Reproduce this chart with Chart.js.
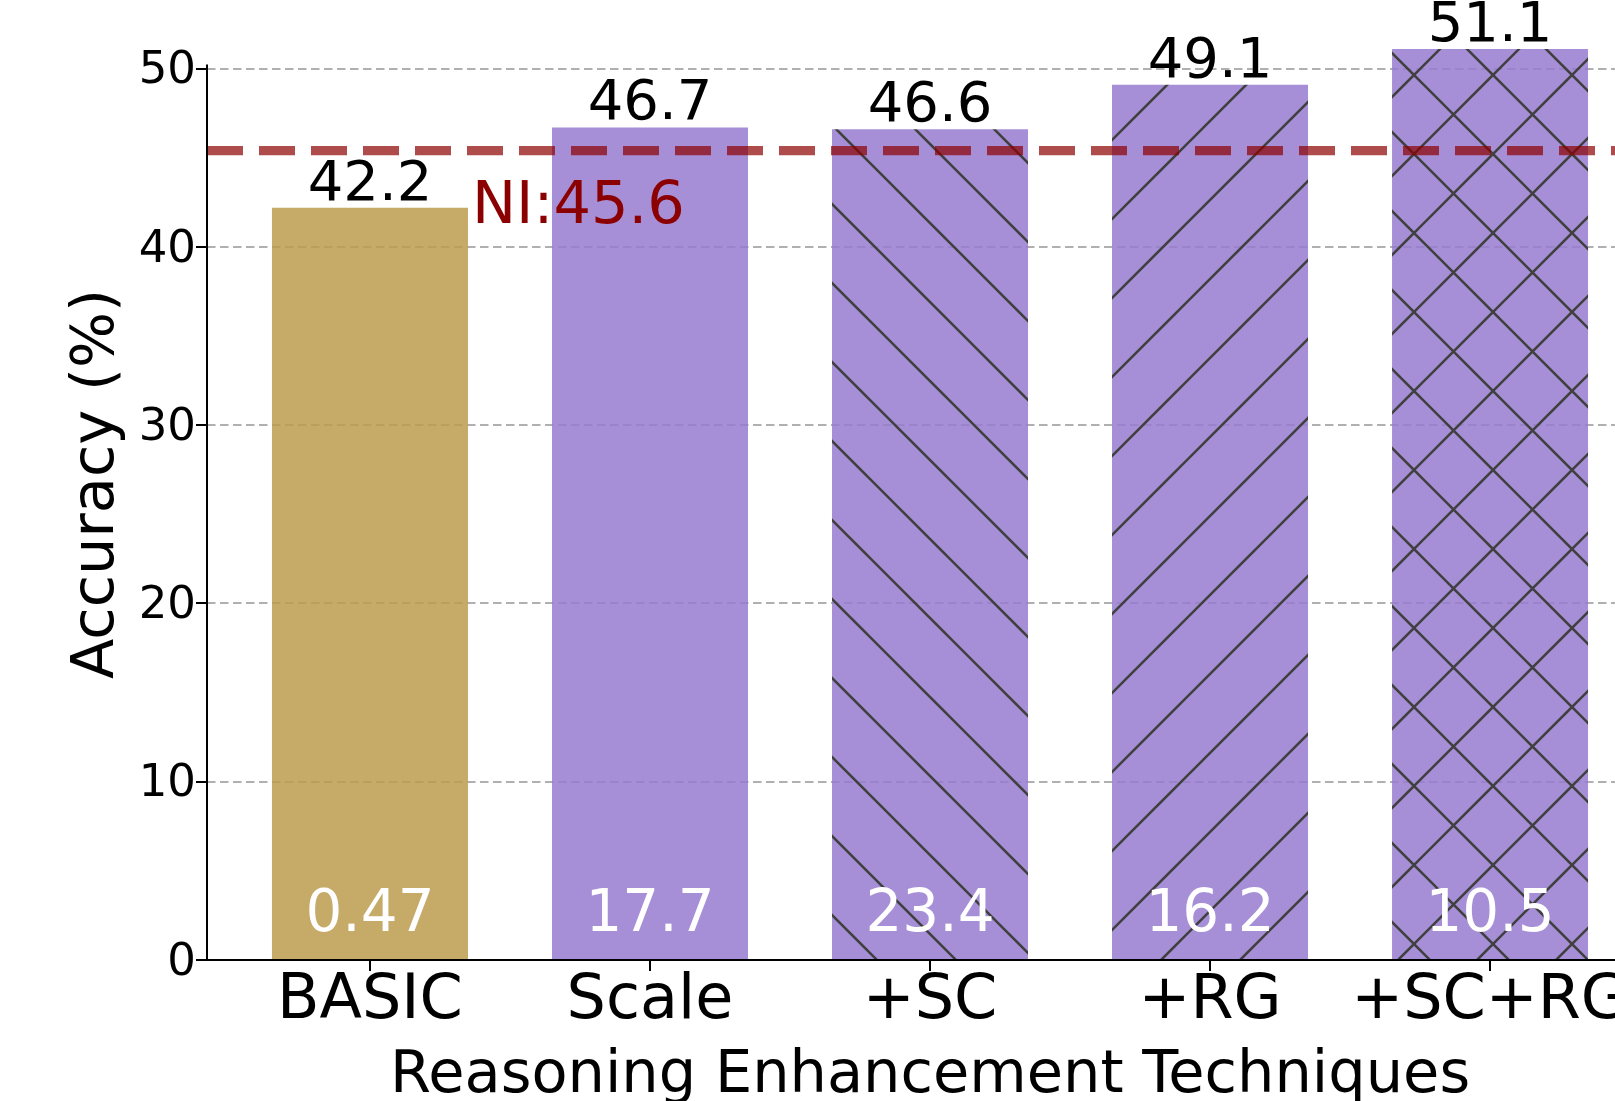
<!DOCTYPE html>
<html>
<head>
<meta charset="utf-8">
<script src="https://cdn.jsdelivr.net/npm/chart.js@4.4.1/dist/chart.umd.min.js"></script>
<style>
html, body { margin: 0; padding: 0; overflow: hidden; background: #ffffff; }
#wrap { position: relative; width: 1700px; height: 1101px; }
</style>
</head>
<body>
<div id="wrap"><canvas id="c"></canvas></div>
<script>
// ---- data ----
const categories = ['BASIC', 'Scale', '+SC', '+RG', '+SC+RG'];
const accuracy = [42.2, 46.7, 46.6, 49.1, 51.1];
const innerValues = [0.47, 17.7, 23.4, 16.2, 10.5];
const yTicks = [0, 10, 20, 30, 40, 50];
const niLineValue = 45.4;
const niLabel = 'NI:45.6';
const hatches = ['', '', '\\', '/', 'x'];
const xAxisTitle = 'Reasoning Enhancement Techniques';
const yAxisTitle = 'Accuracy (%)';

// ---- styling ----
const FONT = 'DejaVu Sans';
Chart.defaults.font.family = FONT;
const GOLD = 'rgba(187,155,77,0.85)';
const PURPLE = 'rgba(150,123,207,0.85)';
const HATCH_COLOR = '#404040';
const TILE = 79;

function makePattern(ctxMain, fill, hatch) {
  const t = document.createElement('canvas');
  t.width = TILE; t.height = TILE;
  const c = t.getContext('2d');
  c.fillStyle = fill;
  c.fillRect(0, 0, TILE, TILE);
  c.strokeStyle = HATCH_COLOR;
  c.lineWidth = 2.6;
  const back = 75, fwd = 67;
  c.beginPath();
  if (hatch === '\\' || hatch === 'x') {
    for (let k = -2; k <= 2; k++) {
      const c0 = back + TILE * k;
      c.moveTo(c0 - 10, -10); c.lineTo(c0 + TILE + 10, TILE + 10);
    }
  }
  if (hatch === '/' || hatch === 'x') {
    for (let k = -2; k <= 3; k++) {
      const c0 = fwd + TILE * k;
      c.moveTo(c0 + 10, -10); c.lineTo(c0 - TILE - 10, TILE + 10);
    }
  }
  c.stroke();
  return ctxMain.createPattern(t, 'repeat');
}

const canvas = document.getElementById('c');
const mainCtx = canvas.getContext('2d');
const baseColors = [GOLD, PURPLE, PURPLE, PURPLE, PURPLE];
const fills = baseColors.map((col, i) => hatches[i] ? makePattern(mainCtx, col, hatches[i]) : col);

const overlay = {
  id: 'overlay',
  afterDatasetsDraw(chart) {
    const { ctx, chartArea, scales } = chart;
    const y = scales.y;
    const bars = chart.getDatasetMeta(0).data;
    ctx.save();
    // NI reference line
    const ny = y.getPixelForValue(niLineValue);
    ctx.strokeStyle = 'rgba(139,0,0,0.7)';
    ctx.lineWidth = 9.3;
    ctx.setLineDash([36, 16]);
    ctx.lineCap = 'butt';
    ctx.beginPath();
    ctx.moveTo(chartArea.left, ny);
    ctx.lineTo(chartArea.right, ny);
    ctx.stroke();
    ctx.setLineDash([]);
    // value labels above bars
    ctx.textAlign = 'center';
    ctx.textBaseline = 'alphabetic';
    ctx.fillStyle = '#000000';
    ctx.font = '56px "' + FONT + '"';
    bars.forEach((b, i) => ctx.fillText(String(accuracy[i]), b.x, b.y - 8));
    // inner labels
    ctx.fillStyle = '#ffffff';
    ctx.font = '58px "' + FONT + '"';
    bars.forEach((b, i) => ctx.fillText(String(innerValues[i]), b.x, b.base - 28));
    // NI label
    ctx.textAlign = 'left';
    ctx.fillStyle = '#8b0000';
    ctx.font = '59px "' + FONT + '"';
    ctx.fillText(niLabel, bars[0].x + bars[0].width / 2 + 4, ny + 72);
    // left spine (0..50)
    ctx.strokeStyle = '#000000';
    ctx.lineWidth = 2;
    ctx.lineCap = 'square';
    ctx.beginPath();
    ctx.moveTo(chartArea.left, y.getPixelForValue(yTicks[yTicks.length - 1]) - 3);
    ctx.lineTo(chartArea.left, y.getPixelForValue(0));
    ctx.stroke();
    ctx.restore();
  }
};

new Chart(canvas, {
  type: 'bar',
  data: {
    datasets: [{
      data: accuracy.map((v, i) => ({ x: i, y: v })),
      backgroundColor: fills,
      borderWidth: 0,
      barPercentage: 0.7,
      categoryPercentage: 1.0
    }]
  },
  options: {
    responsive: true,
    maintainAspectRatio: false,
    animation: false,
    events: [],
    layout: { padding: { top: 8, right: 47, bottom: 0, left: 0 } },
    plugins: { legend: { display: false }, tooltip: { enabled: false } },
    scales: {
      x: {
        type: 'linear',
        offset: false,
        min: -0.582,
        max: 4.582,
        afterBuildTicks: s => { s.ticks = categories.map((_, i) => ({ value: i })); },
        afterFit: s => { s.height = 141; s.paddingLeft = 0; s.paddingRight = 0; },
        grid: { offset: false, drawOnChartArea: false, drawTicks: true, tickLength: 11, tickColor: '#000', tickWidth: 2, lineWidth: 2, color: '#000' },
        border: { display: true, color: '#000', width: 2 },
        ticks: { callback: v => categories[v], font: { size: 62, lineHeight: 1 }, color: '#000', padding: 0, maxRotation: 0, autoSkip: false },
        title: { display: true, text: xAxisTitle, font: { size: 59, lineHeight: 1 }, color: '#000', padding: { top: 0, bottom: -5 } }
      },
      y: {
        type: 'linear',
        min: 0,
        max: 53.4,
        afterBuildTicks: s => { s.ticks = yTicks.map(v => ({ value: v })); },
        afterFit: s => { s.width = 207; s.paddingTop = 0; s.paddingBottom = 0; },
        grid: { color: '#b0b0b0', lineWidth: 2, tickLength: 11, tickColor: '#000', tickWidth: 2, tickBorderDash: [] },
        border: { display: false, dash: [8.5, 4.5] },
        ticks: { font: { size: 45, lineHeight: 1 }, color: '#000', padding: 0, labelOffset: 3 },
        title: { display: true, text: yAxisTitle, font: { size: 59, lineHeight: 1 }, color: '#000', padding: { top: 68, bottom: 0 } }
      }
    }
  },
  plugins: [overlay]
});
</script>
</body>
</html>
